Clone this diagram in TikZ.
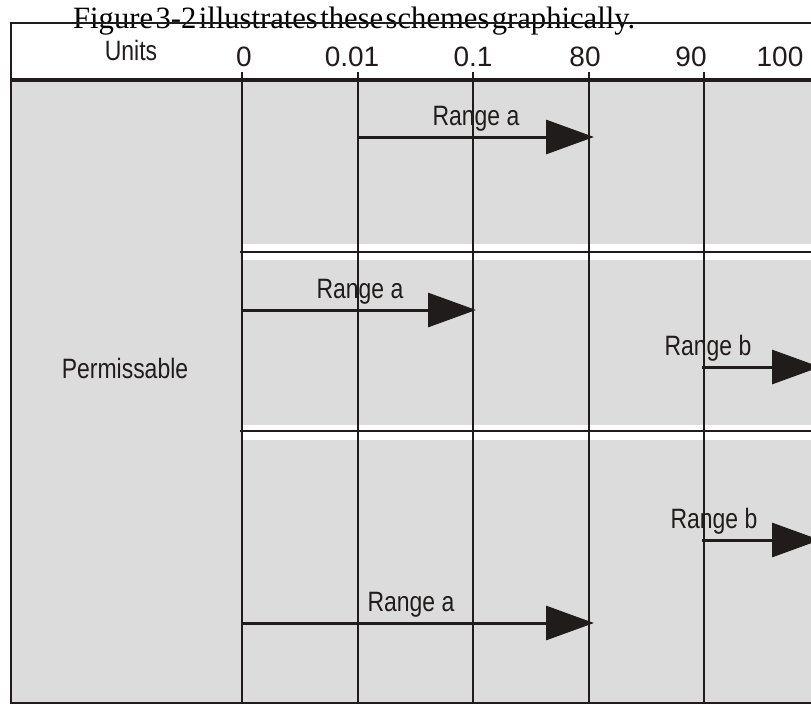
\documentclass[tikz,border=0pt]{standalone}
\usepackage{fontspec}
\usepackage{graphicx}
\setmainfont{Liberation Serif}
\newfontfamily\armsans{Liberation Sans}
\newfontfamily\armnarrow[FakeStretch=0.82]{Liberation Sans}
\usetikzlibrary{arrows.meta,positioning}
\definecolor{cellgrey}{HTML}{DCDCDC}
\definecolor{inkdark}{HTML}{201C1C}

\begin{document}
\begin{tikzpicture}[x=1pt, y=-1pt,
  gridLine/.style  ={draw=inkdark, line width=1.9pt},
  frameLine/.style ={draw=inkdark, line width=2.6pt},
  sepLine/.style   ={draw=inkdark, line width=1.9pt},
  rangeArrow/.style={draw=inkdark, line width=3pt, -{Triangle[length=48pt,width=34pt]}},
  narrowLbl/.style ={font=\armnarrow\fontsize{28}{30}\selectfont, text=inkdark, inner sep=0pt, anchor=base},
  numLbl/.style    ={font=\armsans\fontsize{28}{30}\selectfont, text=inkdark, inner sep=0pt, anchor=base},
]
\useasboundingbox (0,0) rectangle (811,704);
\clip (0,0) rectangle (811,704);

\fill[cellgrey] (11,80) rectangle (820,703);
% white gaps between the three schemes
\fill[white] (242,244) rectangle (820,260);
\fill[white] (242,425) rectangle (820,440);
\draw[sepLine] (240,252) -- (820,252);
\draw[sepLine] (240,431) -- (820,431);

\foreach \x in {242,358,473,589,704} {
  \draw[gridLine] (\x,72) -- (\x,703);
}

\node[anchor=base west, inner sep=0pt] (title) at (73,28)
  {\resizebox{562pt}{\height}{\fontsize{31}{33}\selectfont\spaceskip=0.08em\relax Figure 3-2 illustrates these schemes graphically.}};

\draw[frameLine] (11,23) -- (820,23);
\draw[frameLine] (11,22) -- (11,703) -- (820,703);
\draw[draw=inkdark, line width=3.5pt] (11,80) -- (820,80);

% header
\node[narrowLbl] (unitsHdr) at (131,60) {Units};
\foreach \x/\v [count=\i] in {244/0,352/0.01,473/0.1,585/80,691/90,780/100} {
  \node[numLbl] (unit\i) at (\x,66) {\v};
}
\node[narrowLbl] (permLbl) at (125,378) {Permissable};

% scheme 1
\coordinate (ra1s) at (358,137);
\coordinate (ra1e) at (594,137);
\draw[rangeArrow] (ra1s) -- (ra1e);
\node[narrowLbl] (rngA1) at (476,125) {Range a};

% scheme 2
\coordinate (ra2s) at (242,310);
\coordinate (ra2e) at (476,310);
\draw[rangeArrow] (ra2s) -- (ra2e);
\node[narrowLbl] (rngA2) at (360,298) {Range a};
\coordinate (rb1s) at (702,367);
\coordinate (rb1e) at (820,367);
\draw[rangeArrow] (rb1s) -- (rb1e);
\node[narrowLbl] (rngB1) at (708,355) {Range b};

% scheme 3
\coordinate (rb2s) at (702,540);
\coordinate (rb2e) at (820,540);
\draw[rangeArrow] (rb2s) -- (rb2e);
\node[narrowLbl] (rngB2) at (714,528) {Range b};
\coordinate (ra3s) at (242,623);
\coordinate (ra3e) at (594,623);
\draw[rangeArrow] (ra3s) -- (ra3e);
\node[narrowLbl] (rngA3) at (411,611) {Range a};
\end{tikzpicture}
\end{document}
